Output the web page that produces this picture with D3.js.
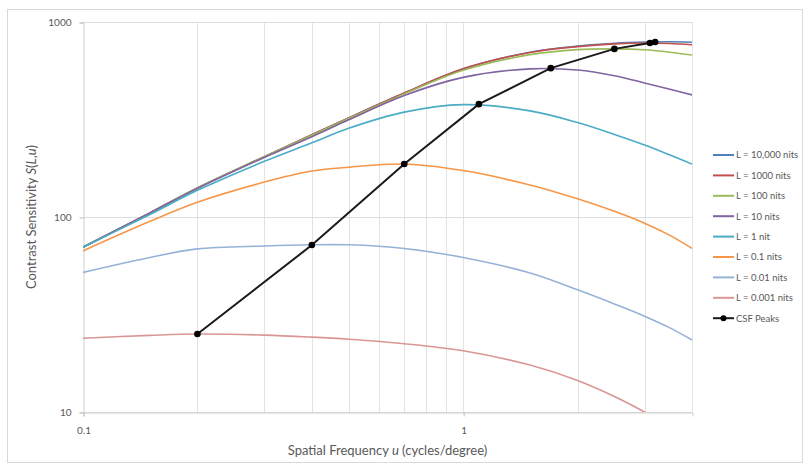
<!DOCTYPE html>
<meta charset="utf-8">
<script src="https://d3js.org/d3.v7.min.js"></script>
<style>
  body { margin: 0; background: #fff; }
  text { font-family: Lato, "Open Sans", sans-serif; fill: #595959; }
</style>
<div id="chart"></div>
<script>

// spatial frequencies (cycles/degree) where the curves were read
var freq = [0.1, 0.15, 0.2, 0.3, 0.4, 0.5, 0.7, 1, 1.5, 2, 2.5, 3, 3.5, 4];

// contrast sensitivity, one array per luminance
var s10000 = [70, 105, 141, 204, 264, 322, 432, 575, 700, 752, 778, 789, 792, 788];
var s1000  = [70, 105, 141, 204, 264, 322, 432, 575, 698, 748, 772, 780, 776, 765];
var s100   = [70, 105, 141, 204, 263, 320, 428, 565, 680, 722, 728, 720, 700, 677];
var s10    = [70, 105, 140, 202, 258, 315, 420, 520, 575, 567, 530, 487, 452, 423];
var s1     = [70, 103, 137, 193, 240, 285, 345, 377, 350, 305, 265, 234, 208, 187];
var s01    = [67, 95, 119, 151, 172, 180, 187, 173, 146, 124, 107, 93, 80.5, 69];
var s001   = [52, 62, 68.6, 71, 72, 72, 69, 62, 51.6, 42.3, 35.8, 31, 27, 23.4];
var s0001  = [23.9, 24.7, 25.1, 24.8, 24.2, 23.6, 22.4, 20.6, 17.4, 14.5, 12.0, 10, 8.4, 7];

// CSF peaks
var peakFreq = [0.2, 0.4, 0.7, 1.1, 1.7, 2.5, 3.1, 3.2];
var peakSens = [25.1, 71.8, 187, 379, 580, 728, 780, 790];

var seriesNames = ["L = 10,000 nits", "L = 1000 nits", "L = 100 nits", "L = 10 nits",
                   "L = 1 nit", "L = 0.1 nits", "L = 0.01 nits", "L = 0.001 nits"];
var seriesColors = ["#4F81BD", "#C0504D", "#9BBB59", "#8064A2",
                    "#4BACC6", "#F79646", "#95B3D7", "#D99694"];
var seriesValues = [s10000, s1000, s100, s10, s1, s01, s001, s0001];

var xTicks = [0.1, 1];
var xGrid = [0.2, 0.3, 0.4, 0.5, 0.6, 0.7, 0.8, 0.9, 1, 2, 3, 4];
var yTicks = [10, 100, 1000];

var width = 810, height = 467;
var plot = {left: 83, right: 692, top: 22, bottom: 412};

var svg = d3.select("#chart")
  .append("svg")
    .attr("width", width)
    .attr("height", height);

// chart border
svg.append("rect")
    .attr("x", 7.5).attr("y", 9.5)
    .attr("width", 795).attr("height", 453)
    .attr("fill", "none")
    .attr("stroke", "#D9D9D9");

var x = d3.scaleLog().domain([0.1, 4]).range([plot.left, plot.right]);
var y = d3.scaleLog().domain([10, 1000]).range([plot.bottom, plot.top]);

// gridlines
svg.selectAll("vgrid")
  .data(xGrid)
  .enter()
  .append("line")
    .attr("x1", function(d){ return Math.round(x(d)) + 0.5; })
    .attr("x2", function(d){ return Math.round(x(d)) + 0.5; })
    .attr("y1", plot.top)
    .attr("y2", plot.bottom)
    .attr("stroke", "#E3E3E3");

svg.selectAll("hgrid")
  .data(yTicks)
  .enter()
  .append("line")
    .attr("x1", plot.left)
    .attr("x2", plot.right)
    .attr("y1", function(d){ return Math.round(y(d)) + 0.5; })
    .attr("y2", function(d){ return Math.round(y(d)) + 0.5; })
    .attr("stroke", "#DDDDDD");

// axes
var yAxis = svg.append("g")
    .attr("transform", "translate(" + (plot.left + 0.5) + ",0.5)")
    .call(d3.axisLeft(y).tickValues(yTicks).tickFormat(d3.format("d")).tickSize(4).tickPadding(8));
var xAxis = svg.append("g")
    .attr("transform", "translate(0.5," + (plot.bottom + 0.5) + ")")
    .call(d3.axisBottom(x).tickValues(xTicks).tickFormat(function(d){ return d; }).tickSize(4).tickPadding(10));

[xAxis, yAxis].forEach(function(a) {
  a.selectAll("path, line").attr("stroke", "#BFBFBF");
  a.select(".domain").attr("stroke", "#D0D0D0");
  a.selectAll("text")
    .style("font-family", "Lato, 'Open Sans', sans-serif")
    .attr("font-size", "10px")
    .attr("fill", "#595959");
});

// clip curves to the plot area
svg.append("clipPath")
    .attr("id", "clip")
  .append("rect")
    .attr("x", plot.left).attr("y", plot.top)
    .attr("width", plot.right - plot.left)
    .attr("height", plot.bottom - plot.top);

// smoothed lines, like Excel's "smoothed line" option
var line = d3.line()
    .x(function(d){ return x(d[0]); })
    .y(function(d){ return y(d[1]); })
    .curve(d3.curveCatmullRom.alpha(0.5));

var curves = svg.append("g").attr("clip-path", "url(#clip)");

seriesValues.forEach(function(vals, i) {
  curves.append("path")
    .datum(freq.map(function(f, j){ return [f, vals[j]]; }))
    .attr("d", line)
    .attr("fill", "none")
    .attr("stroke", seriesColors[i])
    .attr("stroke-width", 1.6);
});

// CSF peaks
var peaks = peakFreq.map(function(f, j){ return [f, peakSens[j]]; });
curves.append("path")
  .datum(peaks)
  .attr("d", d3.line().x(function(d){ return x(d[0]); }).y(function(d){ return y(d[1]); }))
  .attr("fill", "none")
  .attr("stroke", "#1a1a1a")
  .attr("stroke-width", 2);

svg.selectAll("peak")
  .data(peaks)
  .enter()
  .append("circle")
    .attr("cx", function(d){ return x(d[0]); })
    .attr("cy", function(d){ return y(d[1]); })
    .attr("r", 3.3)
    .attr("fill", "#000");

// axis titles
var yt = svg.append("text")
    .attr("transform", "translate(36," + ((plot.top + plot.bottom) / 2) + ") rotate(-90)")
    .attr("text-anchor", "middle")
    .attr("font-size", "13px");
yt.append("tspan").text("Contrast Sensitivity ");
yt.append("tspan").attr("font-style", "italic").text("S");
yt.append("tspan").text("(");
yt.append("tspan").attr("font-style", "italic").text("L");
yt.append("tspan").text(",");
yt.append("tspan").attr("font-style", "italic").text("u");
yt.append("tspan").text(")");

var xt = svg.append("text")
    .attr("x", (plot.left + plot.right) / 2)
    .attr("y", 455)
    .attr("text-anchor", "middle")
    .attr("font-size", "13px");
xt.append("tspan").text("Spatial Frequency ");
xt.append("tspan").attr("font-style", "italic").text("u");
xt.append("tspan").text(" (cycles/degree)");

// legend
var legendNames = seriesNames.concat(["CSF Peaks"]);
var legendColors = seriesColors.concat(["#1a1a1a"]);
var legend = svg.selectAll("legend")
  .data(legendNames)
  .enter()
  .append("g")
    .attr("transform", function(d, i){ return "translate(713," + (155 + i * 20.4) + ")"; });

legend.append("line")
    .attr("x1", 0).attr("x2", 21)
    .attr("stroke", function(d, i){ return legendColors[i]; })
    .attr("stroke-width", 2);

legend.filter(function(d){ return d == "CSF Peaks"; })
  .append("circle")
    .attr("cx", 10.5).attr("r", 3)
    .attr("fill", "#000");

legend.append("text")
    .attr("x", 23)
    .attr("dy", "0.35em")
    .attr("font-size", "9.5px")
    .text(function(d){ return d; });

</script>
